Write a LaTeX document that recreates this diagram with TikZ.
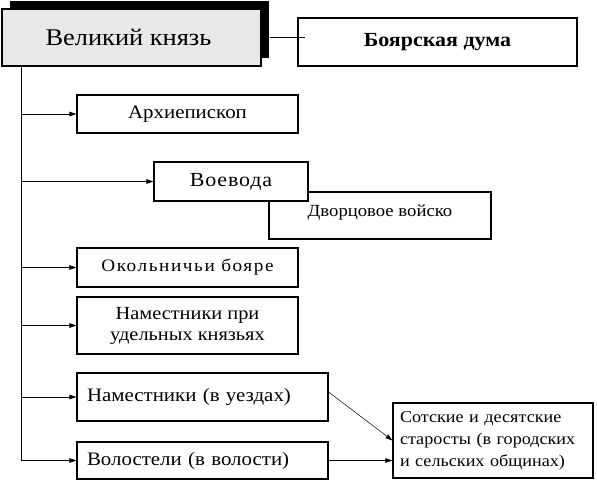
\documentclass[tikz,border=0pt]{standalone}
\usepackage{fontspec}
\setmainfont[FakeStretch=1.1]{Liberation Serif}
\newfontfamily\spacedFont[FakeStretch=1.1,LetterSpace=4]{Liberation Serif}
\newfontfamily\wideFont[FakeStretch=1.1,LetterSpace=9]{Liberation Serif}
\usepackage{xcolor}
\usetikzlibrary{arrows.meta,shadows}
\definecolor{princeGray}{HTML}{E8E8E8}

\tikzset{
  office/.style={draw, line width=1.1pt, fill=white, inner sep=0pt, align=center},
  branch/.style={line width=0.8pt, -{Triangle[length=7pt,width=4.5pt]}},
}

\begin{document}
\begin{tikzpicture}[x=1pt, y=-1pt]
  \useasboundingbox (0,0) rectangle (597,480);

  % Head
  \node[office, fill=princeGray, minimum width=259, minimum height=57,
        drop shadow={shadow xshift=8pt, shadow yshift=8pt, fill=black, opacity=1},
        font=\fontsize{24}{28}\selectfont] (knyaz) at (131.5,37.5) {Великий князь\hspace*{6pt}};
  \node[office, minimum width=279, minimum height=48,
        font=\fontsize{20}{24}\selectfont\bfseries] (duma) at (437.5,42) {Боярская дума};

  % Offices
  \node[office, minimum width=221, minimum height=38,
        font=\fontsize{19}{22}\selectfont] (arch) at (187.5,114) {Архиепископ};
  \node[office, minimum width=222, text height=24pt, text depth=23pt,
        font=\fontsize{17}{20}\selectfont] (voysko) at (380,215.5) {Дворцовое войско};
  \node[office, minimum width=154, minimum height=39,
        font=\fontsize{20}{24}\spacedFont] (voevoda) at (231,181.5) {Воевода};
  \node[office, minimum width=221, minimum height=39,
        font=\fontsize{17.5}{20}\wideFont] (okol) at (187.5,267.5) {Окольничьи бояре};
  \node[office, minimum width=221, minimum height=57,
        font=\fontsize{18.5}{21}\selectfont] (udel) at (187.5,325.5) {Наместники при\\удельных князьях};
  \node[office, text width=231, inner xsep=10pt, minimum height=48, align=left,
        font=\fontsize{19}{22}\selectfont] (uezd) at (202.5,397) {Наместники (в уездах)};
  \node[office, text width=231, inner xsep=10pt, minimum height=37, align=left,
        font=\fontsize{19}{22}\selectfont] (volost) at (202.5,460.5) {Волостели (в волости)};
  \node[office, text width=186, inner xsep=7pt, minimum height=75, align=left,
        font=\fontsize{16.5}{22}\selectfont] (sotsk) at (493,440.5) {Сотские и десятские\\старосты (в городских\\и сельских общинах)};

  % Trunk
  \coordinate (trunkTop) at (21,66);
  \coordinate (trunkEnd) at (21,459);
  \draw[line width=0.8pt] (trunkTop) -- (trunkEnd |- volost.west);
  \draw[line width=0.8pt] ([xshift=8pt]knyaz.east) -- ([xshift=8pt]knyaz.east -| duma.west);
  \foreach \n in {arch,voevoda,okol,udel,uezd,volost}
    \draw[branch] (trunkTop |- \n.west) -- (\n.west);

  % Local level
  \draw[line width=0.5pt, -{Triangle[length=7pt,width=4.5pt]}] ([yshift=5pt]uezd.east) -- (sotsk.west);
  \draw[branch] (volost.east) -- (sotsk.west |- volost.east);
\end{tikzpicture}
\end{document}
